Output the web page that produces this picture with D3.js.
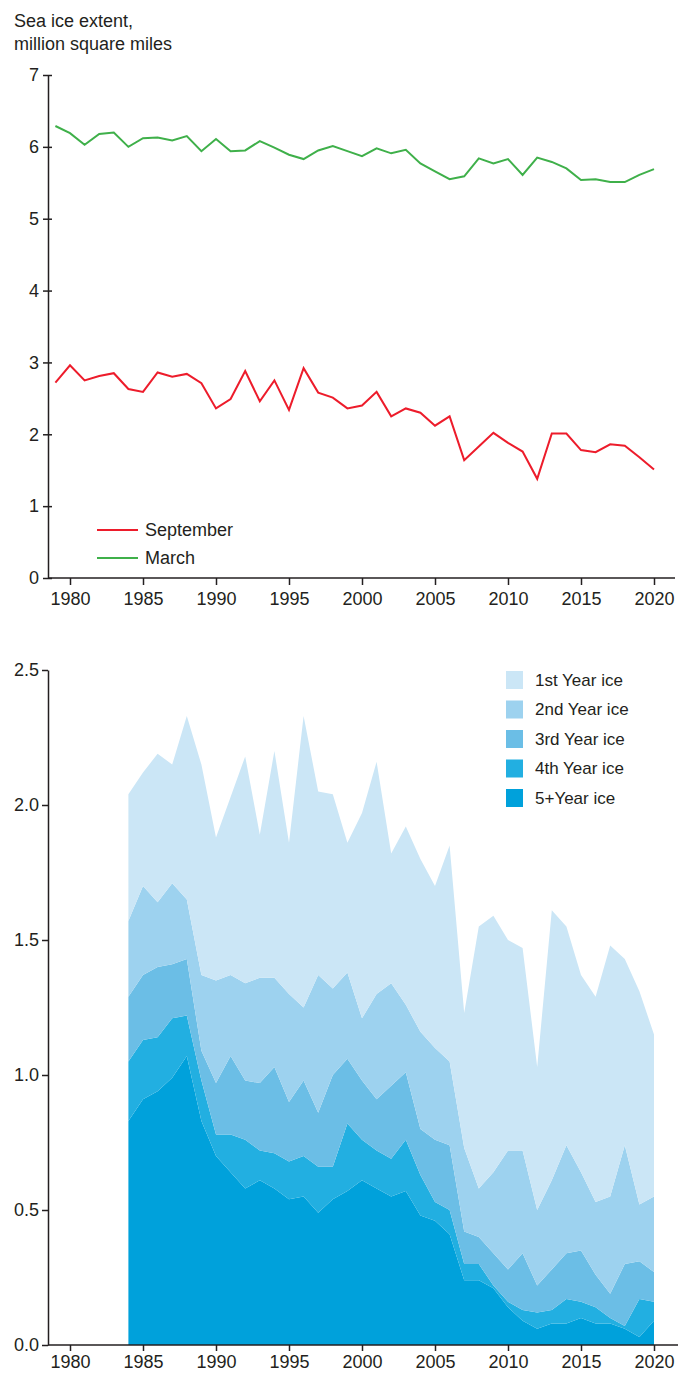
<!DOCTYPE html>
<html>
<head>
<meta charset="utf-8">
<script src="https://cdn.jsdelivr.net/npm/d3@7"></script>
<style>
  body { margin: 0; background: #fff; }
  svg { display: block; font-family: "Liberation Sans", Arial, sans-serif; }
  .axis text { font-size: 18px; fill: #231f20; }
  .axis line, .axis path { stroke: #231f20; stroke-width: 1.5; }
</style>
</head>
<body>
<svg id="chart"></svg>
<script>
// Données : étendue de la glace de mer (millions de miles carrés)
const lineYears = [1979, 1980, 1981, 1982, 1983, 1984, 1985, 1986, 1987, 1988, 1989, 1990, 1991, 1992,
  1993, 1994, 1995, 1996, 1997, 1998, 1999, 2000, 2001, 2002, 2003, 2004, 2005, 2006, 2007, 2008,
  2009, 2010, 2011, 2012, 2013, 2014, 2015, 2016, 2017, 2018, 2019, 2020];
const september = [2.72, 2.96, 2.75, 2.81, 2.85, 2.63, 2.59, 2.86, 2.80, 2.84, 2.71, 2.36, 2.49, 2.88,
  2.46, 2.75, 2.34, 2.92, 2.58, 2.51, 2.36, 2.40, 2.59, 2.25, 2.36, 2.30, 2.12, 2.25, 1.64, 1.83,
  2.02, 1.88, 1.76, 1.38, 2.01, 2.01, 1.78, 1.75, 1.86, 1.84, 1.68, 1.51];
const march = [6.29, 6.19, 6.03, 6.18, 6.20, 6.00, 6.12, 6.13, 6.09, 6.15, 5.94, 6.11, 5.94, 5.95,
  6.08, 5.99, 5.89, 5.83, 5.95, 6.01, 5.94, 5.87, 5.98, 5.91, 5.96, 5.77, 5.66, 5.55, 5.59, 5.84,
  5.77, 5.83, 5.61, 5.85, 5.79, 5.70, 5.54, 5.55, 5.51, 5.51, 5.61, 5.69];

// Données : âge de la glace
const ageYears = [1984, 1985, 1986, 1987, 1988, 1989, 1990, 1991, 1992, 1993, 1994, 1995, 1996,
  1997, 1998, 1999, 2000, 2001, 2002, 2003, 2004, 2005, 2006, 2007, 2008, 2009, 2010, 2011, 2012,
  2013, 2014, 2015, 2016, 2017, 2018, 2019, 2020];
const iceFivePlus = [0.83, 0.91, 0.94, 0.99, 1.07, 0.83, 0.70, 0.64, 0.58, 0.61, 0.58, 0.54, 0.55,
  0.49, 0.54, 0.57, 0.61, 0.58, 0.55, 0.57, 0.48, 0.46, 0.41, 0.24, 0.24, 0.21, 0.14, 0.09, 0.06,
  0.08, 0.08, 0.10, 0.08, 0.08, 0.06, 0.03, 0.09];
const iceFourth = [0.22, 0.22, 0.20, 0.22, 0.15, 0.15, 0.08, 0.14, 0.18, 0.11, 0.13, 0.14, 0.15,
  0.17, 0.12, 0.25, 0.15, 0.14, 0.14, 0.19, 0.15, 0.07, 0.09, 0.06, 0.06, 0.01, 0.02, 0.04, 0.06,
  0.05, 0.09, 0.06, 0.06, 0.02, 0.01, 0.14, 0.07];
const iceThird = [0.24, 0.24, 0.26, 0.20, 0.21, 0.11, 0.19, 0.29, 0.22, 0.25, 0.32, 0.22, 0.28,
  0.20, 0.34, 0.24, 0.22, 0.19, 0.27, 0.25, 0.17, 0.23, 0.24, 0.12, 0.10, 0.12, 0.12, 0.21, 0.10,
  0.15, 0.17, 0.19, 0.12, 0.09, 0.23, 0.14, 0.11];
const iceSecond = [0.28, 0.33, 0.24, 0.30, 0.22, 0.28, 0.38, 0.30, 0.36, 0.39, 0.33, 0.40, 0.27,
  0.51, 0.32, 0.32, 0.23, 0.39, 0.38, 0.25, 0.36, 0.34, 0.31, 0.31, 0.18, 0.30, 0.44, 0.38, 0.28,
  0.33, 0.40, 0.29, 0.27, 0.36, 0.44, 0.21, 0.28];
const iceFirst = [0.47, 0.42, 0.55, 0.44, 0.68, 0.78, 0.53, 0.66, 0.84, 0.53, 0.84, 0.56, 1.08,
  0.68, 0.72, 0.48, 0.76, 0.86, 0.48, 0.66, 0.64, 0.60, 0.80, 0.50, 0.97, 0.95, 0.78, 0.75, 0.53,
  1.00, 0.81, 0.73, 0.76, 0.93, 0.69, 0.79, 0.60];

const ageLabels = ["1st Year ice", "2nd Year ice", "3rd Year ice", "4th Year ice", "5+Year ice"];
const ageColors = ["#cbe6f6", "#9dd2ef", "#6bbee6", "#22afe1", "#00a1db"];

const xTicks = [1980, 1985, 1990, 1995, 2000, 2005, 2010, 2015, 2020];
const topYTicks = [0, 1, 2, 3, 4, 5, 6, 7];
const bottomYTicks = [0, 0.5, 1, 1.5, 2, 2.5];

const width = 678;
const height = 1375;
const ink = "#231f20";

const svg = d3.select("#chart")
    .attr("width", width)
    .attr("height", height);

// Échelle des années commune aux deux graphiques
const x = d3.scaleLinear().domain([1980, 2020]).range([70, 654]);

// ---------- Graphique du haut : septembre / mars ----------
const yTop = d3.scaleLinear().domain([0, 7]).range([578, 75]);

svg.append("text")
    .attr("x", 14).attr("y", 27)
    .attr("font-size", 18).attr("fill", ink)
    .text("Sea ice extent,");
svg.append("text")
    .attr("x", 14).attr("y", 50)
    .attr("font-size", 18).attr("fill", ink)
    .text("million square miles");

const yAxisTop = svg.append("g")
    .attr("class", "axis")
    .attr("transform", "translate(48,0)")
    .call(d3.axisLeft(yTop).tickValues(topYTicks).tickFormat(d3.format("d")).tickSize(5).tickSizeOuter(0).tickPadding(4));
yAxisTop.selectAll(".tick line").attr("x1", 4); // petites croix sur l'axe

const xAxisTop = svg.append("g")
    .attr("class", "axis")
    .attr("transform", "translate(0,578)")
    .call(d3.axisBottom(x).tickValues(xTicks).tickFormat(d3.format("d")).tickSize(7).tickPadding(7));
xAxisTop.select(".domain").remove();
xAxisTop.append("line")
    .attr("x1", 48).attr("x2", 675)
    .attr("stroke", ink).attr("stroke-width", 1.5);

const lineGen = d3.line()
    .x((d, i) => x(lineYears[i]))
    .y(d => yTop(d));

svg.append("path")
    .datum(march)
    .attr("fill", "none")
    .attr("stroke", "#3fb04a")
    .attr("stroke-width", 2)
    .attr("d", lineGen);

svg.append("path")
    .datum(september)
    .attr("fill", "none")
    .attr("stroke", "#ed1c2b")
    .attr("stroke-width", 2)
    .attr("d", lineGen);

// Légende du haut
const topLegend = [
    { label: "September", color: "#ed1c2b", y: 530 },
    { label: "March", color: "#3fb04a", y: 558 }
];
const tl = svg.selectAll(".top-legend")
    .data(topLegend)
    .join("g")
    .attr("class", "top-legend")
    .attr("transform", d => `translate(97, ${d.y})`);
tl.append("line")
    .attr("x1", 0).attr("x2", 41)
    .attr("stroke", d => d.color)
    .attr("stroke-width", 2);
tl.append("text")
    .attr("x", 48).attr("dy", "0.35em")
    .attr("font-size", 18).attr("fill", ink)
    .text(d => d.label);

// ---------- Graphique du bas : âge de la glace ----------
const yBot = d3.scaleLinear().domain([0, 2.5]).range([1345, 670]);

const ageTable = ageYears.map((year, i) => ({
    year,
    five: iceFivePlus[i],
    fourth: iceFourth[i],
    third: iceThird[i],
    second: iceSecond[i],
    first: iceFirst[i]
}));

const keys = ["five", "fourth", "third", "second", "first"];
const stacked = d3.stack().keys(keys)(ageTable);

const area = d3.area()
    .x(d => x(d.data.year))
    .y0(d => yBot(d[0]))
    .y1(d => yBot(d[1]));

// Couleurs du plus ancien (bas) au plus récent (haut)
const stackColors = ageColors.slice().reverse();

svg.append("g")
    .selectAll("path")
    .data(stacked)
    .join("path")
    .attr("fill", (d, i) => stackColors[i])
    .attr("d", area);

const yAxisBot = svg.append("g")
    .attr("class", "axis")
    .attr("transform", "translate(48,0)")
    .call(d3.axisLeft(yBot).tickValues(bottomYTicks).tickFormat(d3.format(".1f")).tickSize(6).tickSizeOuter(0).tickPadding(3));

const xAxisBot = svg.append("g")
    .attr("class", "axis")
    .attr("transform", "translate(0,1345)")
    .call(d3.axisBottom(x).tickValues(xTicks).tickFormat(d3.format("d")).tickSize(6).tickPadding(4));
xAxisBot.select(".domain").remove();
xAxisBot.append("line")
    .attr("x1", 48).attr("x2", 678)
    .attr("stroke", ink).attr("stroke-width", 1.5);

// Légende du bas
const bl = svg.selectAll(".age-legend")
    .data(ageLabels)
    .join("g")
    .attr("class", "age-legend")
    .attr("transform", (d, i) => `translate(506, ${671 + i * 29.5})`);
bl.append("rect")
    .attr("width", 17).attr("height", 18)
    .attr("fill", (d, i) => ageColors[i]);
bl.append("text")
    .attr("x", 29).attr("y", 9).attr("dy", "0.35em")
    .attr("font-size", 17).attr("fill", ink)
    .text(d => d);
</script>
</body>
</html>
